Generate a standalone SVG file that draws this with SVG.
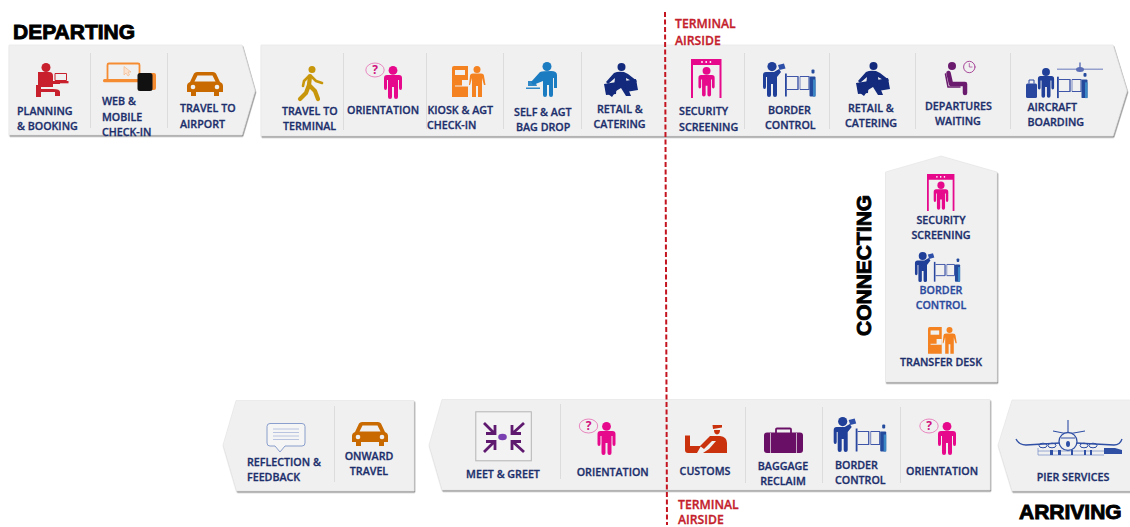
<svg xmlns="http://www.w3.org/2000/svg" width="1130" height="527" viewBox="0 0 1130 527">
<style>
text{font-family:"Open Sans","Liberation Sans",sans-serif}
.t{font-size:10.7px;font-weight:600;fill:#1c2f6c;stroke:#1c2f6c;stroke-width:.3px}
.m{text-anchor:middle}
.r{font-size:12.2px;font-weight:600;fill:#c4202c;stroke:#c4202c;stroke-width:.3px}
.h{font-family:"Liberation Sans",Arial,sans-serif;font-size:21px;font-weight:700;fill:#000;stroke:#000;stroke-width:.9px}
.band{fill:#f0f0f0;stroke:#e6e6e6;stroke-width:.7;filter:url(#sh)}
.div{stroke:#dcdcdc;stroke-width:1}
.q{font-size:12px;font-weight:700;text-anchor:middle}
</style>
<defs>
<filter id="sh" x="-5%" y="-5%" width="110%" height="115%"><feDropShadow dx=".8" dy="1.4" stdDeviation=".5" flood-color="#8c8c8c"/></filter>
<g id="p"><circle cy="4.4" r="4.4"/><path d="M-9 12Q-9 9-6 9H6Q9 9 9 12V22Q9 24 7.5 24 6 24 6 22V14H5V31Q5 33 3 33 1 33 1 31V21H-1V31Q-1 33-3 33-5 33-5 31V14H-6V22Q-6 24-7.5 24-9 24-9 22Z"/></g>
<g id="orient"><use href="#p" fill="#e6098c"/><ellipse cx="-18" cy="4" rx="9.2" ry="7" fill="none" stroke="#e66bb3" stroke-width=".8"/><text x="-18" y="8.4" class="q" fill="#d0127f">?</text></g>
<g id="sec"><path d="M0 0H30.5V39H28.5V6H2V39H0Z" fill="#e6098c"/><circle cx="11" cy="3" r=".9" fill="#fff"/><circle cx="15.2" cy="3" r=".9" fill="#fff"/><circle cx="19.4" cy="3" r=".9" fill="#fff"/><use href="#p" x="15.5" y="8" fill="#e6098c" transform="translate(1.6 .7) scale(.9)"/></g>
<g id="gates"><g fill="none" stroke="#3f56a8" stroke-width="1.1"><path d="M2 7H13V20H2M15 7H24V20H15"/><path d="M13 7V20M15 7V20" stroke-width=".7"/></g><rect y="4" width="1.8" height="23" fill="#2a47a0"/><rect x="24.500" y="7" width="6" height="20" rx="1" fill="#234a9c"/><rect x="26.500" y="0" width="3" height="4" rx="1" fill="#234a9c"/><rect x="28" y="10" width="2.500" height="17" fill="#3b86c4"/></g>
<g id="border"><circle cy="4.600" r="4.600" fill="#1f3f98"/><path d="M-9 13Q-9 10-6 10H2L7 7 9 10 5 15V33Q5 35 3 35 1 35 1 33V22H-1V33Q-1 35-3 35-5 35-5 33V15H-6V25Q-6 27-7.500 27-9 27-9 25Z" fill="#1f3f98"/><path d="M6 3l6-1.500 1.500 5-6 1.500z" fill="#2e4fa8"/><use href="#gates" x="13" y="7.500"/></g>
<g id="run" fill="#12297c"><circle cx="17.500" cy="4" r="4"/><path d="M10 10Q14 8 20 9L24 11 33 18 31 20 22 15 23 23 27 33H22L17 25 12 28 8 34 4 31 10 23 11 15 4 21 2 19Z"/><path d="M0 21L13 19 12 31 2 32Z"/><path d="M21 18L32 16 34 27 22 29Z"/></g>
<g id="kiosk"><path d="M0 2Q0 0 2 0H16V31H0Z" fill="#f58220"/><path d="M3 4H13V9H3Z" fill="#f0f0f0"/><path d="M3 19.500H16V20.500H3ZM10 14h6v5.500h-6z" fill="#f0f0f0"/><g fill="#f58220"><circle cx="25" cy="3.500" r="3.500"/><path d="M18 10Q18 7.500 21 7.500H29Q32 7.500 32 10L33.500 19H32L30 12V31H26V20H24V31H20V12L18 19H17Z"/></g></g>
<g id="car" fill="#c96a00"><path d="M3 10L7 1.500Q8 0 10 0H26Q28 0 29 1.500L33 10Q36 11 36 14V20H32V24H27V20H9V24H4V20H0V14Q0 11 3 10Z"/><path d="M7.500 9.500L10.500 3.500H25.500L28.500 9.500Z" fill="#f0f0f0"/><circle cx="6" cy="15" r="2.300" fill="#f0f0f0"/><circle cx="30" cy="15" r="2.300" fill="#f0f0f0"/></g>
</defs>

<g id="departing-label"><text class="h" x="13" y="38.500">DEPARTING</text></g>

<g id="band-departing-1"><path class="band" d="M9 45H242L255 91 242 135H9Z"/><path class="div" d="M90.500 53V128M167.500 53V128"/></g>
<g id="band-departing-2"><path class="band" d="M261 45H1113L1127 91 1113 136H261Z"/><path class="div" d="M343.500 53V130M426.500 53V129M503.500 53V129M581.500 52V129M744.500 53V129M829.500 53V129M915.500 53V129M1010.500 53V129"/></g>

<g id="planning"><g fill="#c8202d"><circle cx="46" cy="67.500" r="4.500"/><path d="M38 72H49Q53 72 53 76V81H60L60 84H53V87H41V89H53Q60 89 60 92V96H55V92H41V97H36V85H38Z"/></g><path d="M55 73.500H66.500V80.500H55Z" fill="none" stroke="#c8202d" stroke-width="1"/><rect x="52" y="81" width="16.500" height="2.300" fill="#c8202d"/><text class="t" x="17" y="115">PLANNING</text><text class="t" x="17" y="130">&amp; BOOKING</text></g>
<g id="web-checkin"><rect x="107.500" y="63.500" width="32" height="17" rx="1.500" fill="none" stroke="#f58c32" stroke-width="1.800"/><rect x="103" y="79" width="36" height="3.200" rx="1.500" fill="#f58c32"/><path d="M124 66.500V75L126 73 128 76 129.500 75 128 72 131 72Z" fill="#fbe2cf" stroke="#f0a870" stroke-width=".5"/><rect x="148" y="73" width="8" height="17" rx="2" fill="#f58c32"/><rect x="137.500" y="73" width="15" height="18" rx="2.500" fill="#111"/><text class="t" x="102" y="105">WEB &amp;</text><text class="t" x="102" y="120.500">MOBILE</text><text class="t" x="102" y="136">CHECK-IN</text></g>
<g id="travel-airport"><use href="#car" x="187" y="72"/><text class="t" x="180" y="112">TRAVEL TO</text><text class="t" x="180" y="127.500">AIRPORT</text></g>
<g id="travel-terminal"><g transform="translate(298 66)" fill="none" stroke="#c8960a" stroke-linecap="round" stroke-linejoin="round"><circle cx="14" cy="3.500" r="3.500" fill="#c8960a" stroke="none"/><path d="M12 10L11 19 17 25 20 33M11 19L8 27 2 33" stroke-width="4.200"/><path d="M13 10L18 15 24 17M11 10L6 15 5 20" stroke-width="2.600"/></g><text class="t" x="282" y="115">TRAVEL TO</text><text class="t" x="283" y="130">TERMINAL</text></g>
<g id="orientation-1"><use href="#orient" x="393" y="66"/><text class="t" x="347" y="114">ORIENTATION</text></g>
<g id="kiosk-checkin"><use href="#kiosk" x="452" y="66"/><text class="t" x="427.500" y="114">KIOSK &amp; AGT</text><text class="t" x="427" y="129">CHECK-IN</text></g>
<g id="bag-drop"><g transform="translate(547 62)" fill="#1b7cc2"><circle cy="4.500" r="4.500"/><path d="M-7 10Q-4 9 4 9 10 9 10 13V26H7V16H6V33Q6 35 4 35 2 35 2 33V23H0V33Q0 35-2 35-4 35-4 33V19L-14 23-16 20-7 10Z"/><path d="M-21 25.500H-7V27H-21ZM-19 19H-12L-10 24H-19Z" opacity=".9"/></g><text class="t" x="514" y="116">SELF &amp; AGT</text><text class="t" x="516" y="131">BAG DROP</text></g>
<g id="retail-1"><use href="#run" x="604" y="63"/><text class="t" x="597" y="113">RETAIL &amp;</text><text class="t" x="593.500" y="128">CATERING</text></g>
<g id="security-1"><use href="#sec" x="691" y="59"/><text class="t" x="679" y="115">SECURITY</text><text class="t" x="679" y="131">SCREENING</text></g>
<g id="border-1"><use href="#border" x="772" y="62"/><text class="t" x="768" y="114">BORDER</text><text class="t" x="765" y="129">CONTROL</text></g>
<g id="retail-2"><use href="#run" x="856" y="62"/><text class="t" x="848" y="112">RETAIL &amp;</text><text class="t" x="845" y="127">CATERING</text></g>
<g id="departures-waiting"><g fill="none" stroke="#6a1b6e" stroke-linecap="round" stroke-linejoin="round"><circle cx="952" cy="66" r="4" fill="#6a1b6e" stroke="none"/><path d="M948.500 73L951 84H965V93" stroke-width="4.500"/><path d="M945.500 74L948 87H960" stroke-width="1.500"/><circle cx="969.300" cy="67" r="5.700" stroke="#a8489a" stroke-width="1"/><path d="M969.300 63.500V67H972" stroke="#a8489a" stroke-width=".8"/></g><text class="t" x="925" y="110">DEPARTURES</text><text class="t" x="935" y="125">WAITING</text></g>
<g id="aircraft-boarding"><rect x="1026" y="83.500" width="11" height="14.500" rx="1.500" fill="#2a47a0"/><path d="M1029 83.500V80H1034V83.500" fill="none" stroke="#2a47a0"/><g transform="translate(1046 68) scale(.9)" fill="#1f3f98"><use href="#p"/></g><g transform="translate(1057 73) scale(1 .93)"><use href="#gates"/></g><g fill="#5a6db5"><rect x="1057" y="68.700" width="46" height=".9"/><ellipse cx="1080" cy="69.500" rx="4" ry="2.500"/><path d="M1079.300 62.500H1080.700V68H1079.300Z"/></g><text class="t" x="1027.500" y="111">AIRCRAFT</text><text class="t" x="1027.500" y="126">BOARDING</text></g>

<g id="band-connecting"><path class="band" d="M885.500 172L941 156 997 172V382H885.500Z"/></g>
<g id="connecting-label"><text class="h" transform="translate(871 336) rotate(-90)">CONNECTING</text></g>
<g id="security-2"><g transform="translate(927 174) scale(.9 .95)"><use href="#sec"/></g><text class="t m" x="941" y="224">SECURITY</text><text class="t m" x="941" y="239">SCREENING</text></g>
<g id="border-2"><g transform="translate(922.700 252) scale(.86)"><use href="#border"/></g><text class="t m" x="941" y="294" style="fill:#2b4a9e;stroke:#2b4a9e">BORDER</text><text class="t m" x="941" y="309" style="fill:#2b4a9e;stroke:#2b4a9e">CONTROL</text></g>
<g id="transfer-desk"><g transform="translate(928 327) scale(.86)"><use href="#kiosk"/></g><text class="t m" x="941" y="366">TRANSFER DESK</text></g>

<g id="band-arriving-3"><path class="band" d="M236 400.500H414V491H236.500L223 445Z"/><path class="div" d="M334.500 406V482"/></g>
<g id="band-arriving-2"><path class="band" d="M442 399.500H990V490H442L429 445Z"/><path class="div" d="M560.500 404V479M745.500 407V483M822.500 407V483M900.500 407V483"/></g>
<g id="band-arriving-1"><path class="band" d="M1012 400H1131V491H1012L998 445Z"/></g>

<g id="reflection"><path d="M270 423.500H302Q305 423.500 305 426.500V443Q305 446 302 446H285L280 452 275 446H270Q267 446 267 443V426.500Q267 423.500 270 423.500Z" fill="#f5f5f5" stroke="#7e95c8" stroke-width=".9"/><path d="M273 429H299M273 432.500H299M273 436H299M273 439.500H299" stroke="#aab8da" stroke-width=".8"/><text class="t" x="247" y="466">REFLECTION &amp;</text><text class="t" x="247" y="481">FEEDBACK</text></g>
<g id="onward-travel"><use href="#car" x="352" y="422"/><text class="t m" x="369" y="460">ONWARD</text><text class="t m" x="369" y="475">TRAVEL</text></g>
<g id="meet-greet"><rect x="475.800" y="411.800" width="55.500" height="49" fill="#f3f3f3" stroke="#b4b4b4" stroke-width="1"/><g fill="none" stroke="#5f1a70" stroke-width="2.800"><path d="M484 423L494 433M495 425V433.500H486"/><path d="M524 423L513 433M512 425V433.500H521"/><path d="M484 452L494 442M495 450V441.500H486"/><path d="M524 452L513 442M512 450V441.500H521"/></g><ellipse cx="502.500" cy="437" rx="4.300" ry="3.300" fill="#7a3fb0"/><text class="t m" x="503" y="478">MEET &amp; GREET</text></g>
<g id="orientation-2"><use href="#orient" x="606.500" y="422"/><text class="t m" x="612.700" y="476">ORIENTATION</text></g>
<g id="customs"><g fill="#c9320d"><path d="M685 435.500H690V446H701L697 453H688Q685 453 685 450Z"/><path d="M712.500 425H722V427.500L713 429ZM714 430H720Q720 434 717 434.500 714 434 714 430Z"/><path d="M700 446L710 436H720Q727 437 727 443V453H703L709 449 716 441 712 441 704 449Z"/></g><text class="t m" x="705" y="475">CUSTOMS</text></g>
<g id="baggage-reclaim"><path d="M776 433V429.500Q776 428.500 777 428.500H790Q791 428.500 791 429.500V433" fill="none" stroke="#6a0f66" stroke-width="1.800"/><rect x="764" y="432.500" width="39" height="20.500" rx="3" fill="#6a0f66"/><path d="M770.500 433V453M796.500 433V453" stroke="#f0f0f0" stroke-width=".7"/><text class="t m" x="783" y="470">BAGGAGE</text><text class="t m" x="783" y="485">RECLAIM</text></g>
<g id="border-3"><use href="#border" x="842.700" y="417"/><text class="t" x="835" y="469">BORDER</text><text class="t" x="835" y="484">CONTROL</text></g>
<g id="orientation-3"><use href="#orient" x="947" y="422"/><text class="t m" x="942" y="475">ORIENTATION</text></g>
<g id="pier-services"><g fill="none" stroke="#2f4fa5"><path d="M1016 439Q1019 445 1026 445L1060 443M1076 443L1114 445Q1120 445 1122 439" stroke-width="1.300"/><path d="M1068 420V432M1053 431L1068 434 1085 431" stroke-width="1.100"/><circle cx="1068" cy="441.500" r="9" fill="#f0f0f0" stroke-width="1.300"/><path d="M1061 438H1075" stroke-width="1"/><ellipse cx="1043" cy="445.500" rx="4" ry="2.300"/><ellipse cx="1052" cy="445.500" rx="4" ry="2.300"/><ellipse cx="1084" cy="445.500" rx="4" ry="2.300"/><ellipse cx="1093" cy="445.500" rx="4" ry="2.300"/><path d="M1038 448V455H1104M1038 451H1104" stroke="#7e95c8" stroke-width=".8"/></g><ellipse cx="1068" cy="444" rx="2" ry="3" fill="#2f4fa5"/><path d="M1050 450h3v5h-3zM1058 450h3v5h-3zM1071 450h2v5h-2zM1084 450h2v5h-2zM1090 450h2v5h-2z" fill="#2f4fa5"/><path d="M1104 448H1115L1122 450V454H1104Z" fill="#2f4fa5"/><text class="t m" x="1073" y="481">PIER SERVICES</text></g>

<g id="airside-top"><text class="r" x="675" y="27.500">TERMINAL</text><text class="r" x="675" y="44.500">AIRSIDE</text></g>
<g id="airside-bottom"><text class="r" x="678" y="509">TERMINAL</text><text class="r" x="678" y="523.500">AIRSIDE</text></g>
<g id="arriving-label"><text class="h" x="1019" y="518.500">ARRIVING</text></g>
<g id="connectors"><path d="M665 12L667 525" fill="none" stroke="#c4141f" stroke-width="2" stroke-dasharray="5 2.500"/></g>
</svg>
